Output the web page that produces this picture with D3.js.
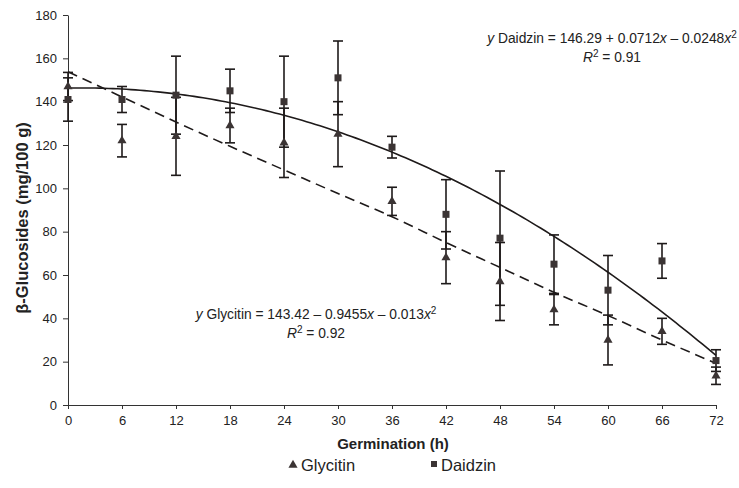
<!DOCTYPE html>
<html>
<head>
<meta charset="utf-8">
<script src="https://cdn.jsdelivr.net/npm/d3@7/dist/d3.min.js"></script>
<style>
  html, body { margin: 0; padding: 0; background: #fff; }
  svg { display: block; font-family: "Liberation Sans", Arial, Helvetica, sans-serif; }
</style>
</head>
<body>
<svg id="chart" width="739" height="488"></svg>
<script>
// Germination time points (h)
const hours = [0, 6, 12, 18, 24, 30, 36, 42, 48, 54, 60, 66, 72];

// Glycitin means and standard deviations (mg/100 g)
const glycitin    = [147, 122, 124, 129, 121, 125, 94, 68, 57, 44, 30, 34, 13.5];
const glycitinErr = [6.5, 7.5, 18, 8, 16, 15, 6.5, 12, 18, 7, 11.5, 6, 4];

// Daidzin means and standard deviations (mg/100 g)
const daidzin    = [141, 141, 143, 145, 140, 151, 119, 88, 77, 65, 53, 66.5, 20.5];
const daidzinErr = [10, 6, 18, 10, 21, 17, 5, 16, 31, 13.5, 16, 8, 5];

// Daidzin quadratic fit: a + b x + c x^2
const daidzinFit = [146.29, 0.0712, -0.0248];
// Glycitin trend line as plotted
const glycitinTrend = [153.8, 142.2, 130.6, 119.4, 108.5, 97.6, 86.9, 75.0, 63.5, 52.0, 41.3, 30.0, 19.2];

// Axis ticks
const xTicks = [0, 6, 12, 18, 24, 30, 36, 42, 48, 54, 60, 66, 72];
const yTicks = [0, 20, 40, 60, 80, 100, 120, 140, 160, 180];

const svg = d3.select("#chart");
const x = d3.scaleLinear().domain([0, 72]).range([68, 716]);
const y = d3.scaleLinear().domain([0, 180]).range([405, 15]);

const ink = "#1e1a1a";
const markFill = "#3b3434";

// Axes
const yAxis = svg.append("g").attr("transform", `translate(${x(0)},0)`)
  .call(d3.axisLeft(y).tickValues(yTicks).tickSize(5).tickPadding(6).tickSizeOuter(0));
const xAxis = svg.append("g").attr("transform", `translate(0,${y(0)})`)
  .call(d3.axisBottom(x).tickValues(xTicks).tickSize(4).tickPadding(7).tickSizeOuter(0));
[xAxis, yAxis].forEach(g => {
  g.selectAll("path, line").attr("stroke", "#333").attr("stroke-width", 1);
  g.selectAll("text").attr("fill", "#222").style("font-size", "13px")
    .style("font-family", "'Liberation Sans', Arial, sans-serif");
});

// Trend lines
const xs = d3.range(0, 72.01, 0.5);
svg.append("path")
  .datum(xs)
  .attr("fill", "none").attr("stroke", ink).attr("stroke-width", 1.6)
  .attr("d", d3.line()
    .x(h => x(h))
    .y(h => y(daidzinFit[0] + daidzinFit[1] * h + daidzinFit[2] * h * h)));

svg.append("path")
  .datum(hours.map((h, i) => [h, glycitinTrend[i]]))
  .attr("fill", "none").attr("stroke", ink).attr("stroke-width", 1.6)
  .attr("stroke-dasharray", "10,6")
  .attr("d", d3.line().x(d => x(d[0])).y(d => y(d[1])).curve(d3.curveMonotoneX));

// Error bars
function errorBars(vals, errs) {
  const g = svg.append("g").attr("stroke", ink).attr("stroke-width", 1.6);
  hours.forEach((h, i) => {
    const cx = x(h), hi = y(vals[i] + errs[i]), lo = y(vals[i] - errs[i]);
    g.append("line").attr("x1", cx).attr("x2", cx).attr("y1", hi).attr("y2", lo);
    g.append("line").attr("x1", cx - 5).attr("x2", cx + 5).attr("y1", hi).attr("y2", hi);
    g.append("line").attr("x1", cx - 5).attr("x2", cx + 5).attr("y1", lo).attr("y2", lo);
  });
}
errorBars(daidzin, daidzinErr);
errorBars(glycitin, glycitinErr);

// Markers
const tri = d3.symbol().type(d3.symbolTriangle).size(36);
svg.append("g").selectAll("path").data(hours).join("path")
  .attr("d", tri)
  .attr("transform", (h, i) => `translate(${x(h)},${y(glycitin[i])})`)
  .attr("fill", markFill);

svg.append("g").selectAll("rect").data(hours).join("rect")
  .attr("x", h => x(h) - 3.5)
  .attr("y", (h, i) => y(daidzin[i]) - 3.5)
  .attr("width", 7).attr("height", 7)
  .attr("fill", markFill);

// Axis titles
svg.append("text")
  .attr("transform", "translate(28,218) rotate(-90)")
  .attr("text-anchor", "middle")
  .style("font-size", "16.5px").style("font-weight", "bold").attr("fill", "#222")
  .text("β-Glucosides (mg/100 g)");

svg.append("text")
  .attr("x", 393).attr("y", 449)
  .attr("text-anchor", "middle")
  .style("font-size", "15px").style("font-weight", "bold").attr("fill", "#222")
  .text("Germination (h)");

// Fit equations
function equation(cx, cy, name, parts, r2) {
  const t = svg.append("text").attr("x", cx).attr("y", cy)
    .attr("text-anchor", "middle").style("font-size", "13.8px").attr("fill", "#222");
  t.append("tspan").style("font-style", "italic").text("y");
  t.append("tspan").text(" " + name + " = " + parts[0] + " " + parts[1] + " ");
  t.append("tspan").text(parts[2]);
  t.append("tspan").style("font-style", "italic").text("x");
  t.append("tspan").text(" – " + parts[3]);
  t.append("tspan").style("font-style", "italic").text("x");
  t.append("tspan").attr("dy", -5).style("font-size", "10px").text("2");

  const r = svg.append("text").attr("x", cx).attr("y", cy + 19)
    .attr("text-anchor", "middle").style("font-size", "13.8px").attr("fill", "#222");
  r.append("tspan").style("font-style", "italic").text("R");
  r.append("tspan").attr("dy", -5).style("font-size", "10px").text("2");
  r.append("tspan").attr("dy", 5).text(" = " + r2);
}
equation(612, 43, "Daidzin", ["146.29", "+", "0.0712", "0.0248"], "0.91");
equation(316, 319, "Glycitin", ["143.42", "–", "0.9455", "0.013"], "0.92");

// Legend
const lg = svg.append("g").style("font-size", "16.5px").attr("fill", "#222");
lg.append("path").attr("d", d3.symbol().type(d3.symbolTriangle).size(36))
  .attr("transform", "translate(293,465)").attr("fill", markFill);
lg.append("text").attr("x", 301).attr("y", 471).text("Glycitin");
lg.append("rect").attr("x", 431).attr("y", 461).attr("width", 6).attr("height", 6).attr("fill", markFill);
lg.append("text").attr("x", 441).attr("y", 471).text("Daidzin");
</script>
</body>
</html>
